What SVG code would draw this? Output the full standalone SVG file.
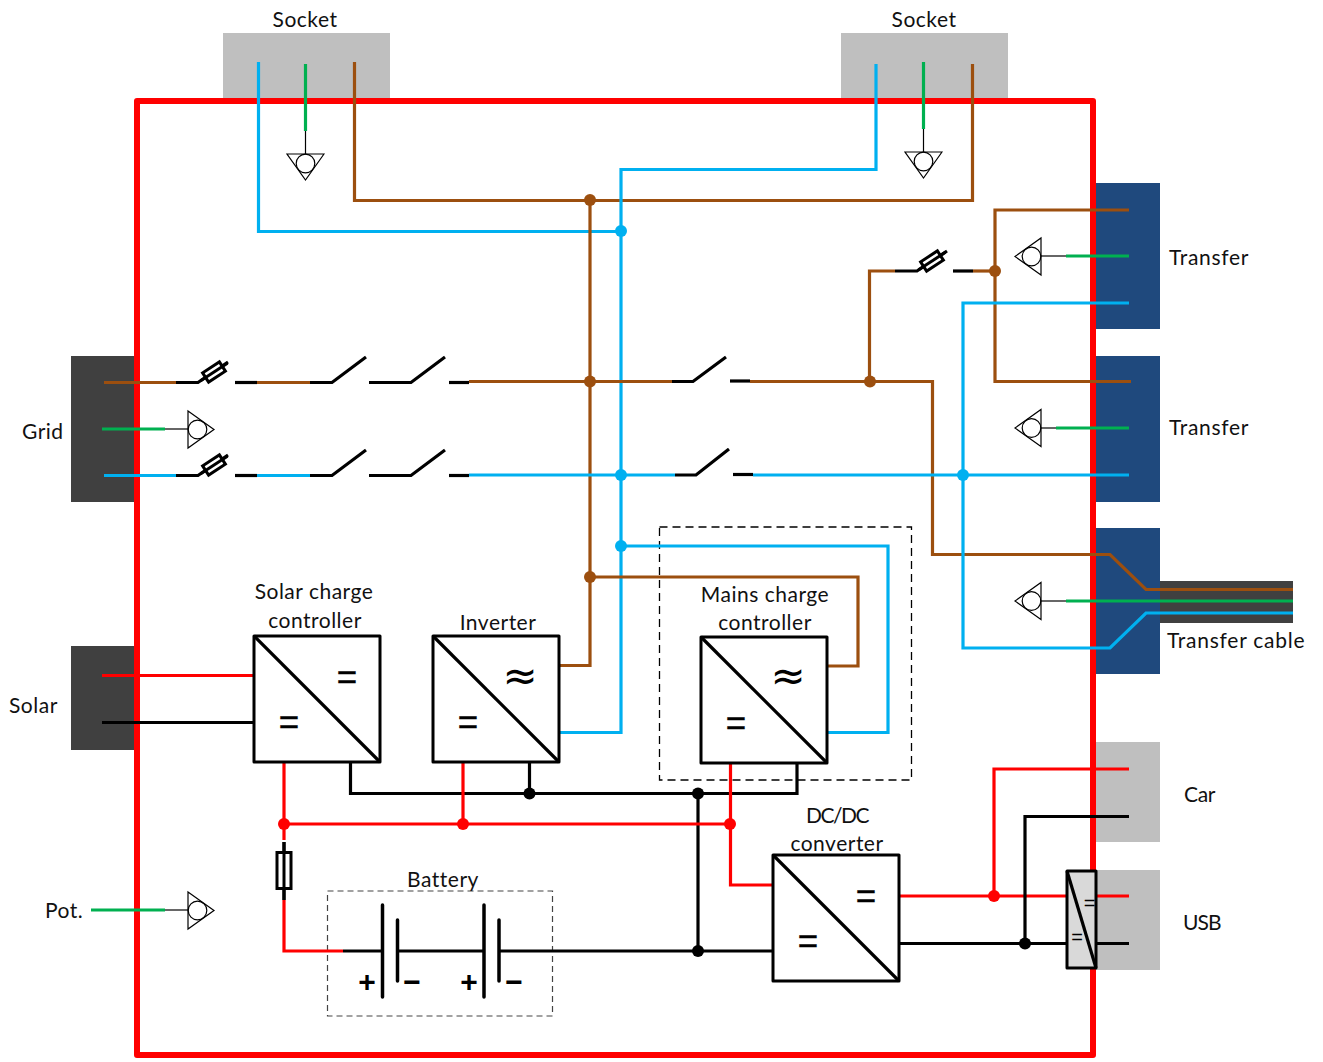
<svg xmlns="http://www.w3.org/2000/svg" xmlns:xlink="http://www.w3.org/1999/xlink" width="1323" height="1062" viewBox="0 0 1323 1062">
<style>
.w{fill:none;stroke-width:3.2;stroke-linejoin:miter}
.br{stroke:#9C4F0F}.bl{stroke:#00B0F0}.gr{stroke:#00B050}.re{stroke:#FF0000}.bk{stroke:#000}
.thin{fill:none;stroke:#000;stroke-width:1.2}
.box{fill:#fff;stroke:#000;stroke-width:3;stroke-linejoin:round}
.t{font-family:Lato,"Noto Sans","Liberation Sans",sans-serif;font-size:21px;fill:#111;letter-spacing:.5px}
.m{text-anchor:middle}
.eq{font-family:"Liberation Sans",sans-serif;font-size:35px;text-anchor:middle;fill:#000;stroke:#000;stroke-width:.4}
.ap{font-family:"DejaVu Sans",sans-serif;font-size:42px;text-anchor:middle;fill:#000}
.pm{font-family:"Liberation Sans",sans-serif;font-size:30px;font-weight:bold;text-anchor:middle;fill:#000}
.dot-br{fill:#9C4F0F}.dot-bl{fill:#00B0F0}.dot-re{fill:#FF0000}.dot-bk{fill:#000}
</style>
<defs>
<g id="fuse"><rect x="-10" y="-5.5" width="20" height="11" fill="#fff" stroke="#000" stroke-width="3"/><path d="M-16 0H16" stroke="#000" stroke-width="3" fill="none"/></g>
<g id="earth"><path d="M0 -18.500L26 0L0 18.500Z" fill="#fff" stroke="#000" stroke-width="1.200"/><circle cx="9.500" cy="0" r="9.300" fill="none" stroke="#000" stroke-width="1.200"/></g>
</defs>

<g id="socket-left"><rect x="223" y="33" width="167" height="66" fill="#BFBFBF"/><text class="t m" x="305" y="27">Socket</text></g>
<g id="socket-right"><rect x="841" y="33" width="167" height="66" fill="#BFBFBF"/><text class="t m" x="924" y="27">Socket</text></g>
<g id="grid"><rect x="71" y="356" width="65" height="146" fill="#404040"/><text class="t" x="22" y="439">Grid</text></g>
<g id="solar"><rect x="71" y="646" width="65" height="104" fill="#404040"/><text class="t" x="9" y="713">Solar</text></g>
<g id="transfer-1"><rect x="1095" y="183" width="65" height="146" fill="#1F497D"/><text class="t" x="1169" y="265" textLength="80">Transfer</text></g>
<g id="transfer-2"><rect x="1095" y="356" width="65" height="146" fill="#1F497D"/><text class="t" x="1169" y="435" textLength="80">Transfer</text></g>
<g id="transfer-3"><rect x="1095" y="528" width="65" height="146" fill="#1F497D"/><rect x="1160" y="581" width="133" height="42" fill="#404040"/><text class="t" x="1167" y="648" textLength="138">Transfer cable</text></g>
<g id="car"><rect x="1095" y="742" width="65" height="100" fill="#BFBFBF"/><text class="t" x="1184" y="802" textLength="32">Car</text></g>
<g id="usb"><rect x="1095" y="870" width="65" height="100" fill="#BFBFBF"/><text class="t" x="1183" y="930" textLength="39">USB</text></g>
<g id="pot"><text class="t" x="45" y="918">Pot.</text></g>

<g id="enclosure"><rect x="137" y="101" width="956" height="954" fill="none" stroke="#FF0000" stroke-width="6" stroke-linejoin="round"/></g>

<g id="mains-frame"><rect x="659.500" y="527" width="252" height="253" fill="none" stroke="#000" stroke-width="1.300" stroke-dasharray="8 5"/></g>
<g id="battery-frame"><rect x="327.500" y="891" width="225" height="125" fill="none" stroke="#444" stroke-width="1.200" stroke-dasharray="6 4"/></g>

<g id="connectors">
<path class="w bl" d="M258.500 62V231.500H621"/>
<path class="w br" d="M354.500 62V200.500H972.500V64"/>
<path class="w bl" d="M876 64V169.500H621V732.500H560"/>
<path class="w br" d="M590 200V665.500H560"/>
<path class="w gr" d="M305.500 64V131"/><path class="thin" d="M305.500 131V155"/>
<path class="w gr" d="M923.500 62V129"/><path class="thin" d="M923.500 129V153"/>

<path class="w br" d="M104 382.500H176"/><path class="w bk" d="M176 382.500H198L228 362"/>
<path class="w bk" d="M235 382.500H257"/><path class="w br" d="M257 382.500H310"/><path class="w bk" d="M310 382.500H332L366 357"/>
<path class="w bk" d="M369 382.500H411L445 357"/>
<path class="w bk" d="M449 382.500H469"/><path class="w br" d="M469 381.500H672"/><path class="w bk" d="M672 381.500H693L726 357"/>
<path class="w bk" d="M730 381H750"/><path class="w br" d="M750 381.500H932.500V554.500H1110L1146 589.500H1293"/>

<path class="w bl" d="M104 475.500H176"/><path class="w bk" d="M176 475.500H198L228 455"/>
<path class="w bk" d="M235 475.500H257"/><path class="w bl" d="M257 475.500H310"/><path class="w bk" d="M310 475.500H332L366 450"/>
<path class="w bk" d="M369 475.500H411L445 450"/>
<path class="w bk" d="M449 475.500H469"/><path class="w bl" d="M469 475H675"/><path class="w bk" d="M675 475H696L729 449"/>
<path class="w bk" d="M733 474.500H753"/><path class="w bl" d="M753 475H1129"/>

<path class="w gr" d="M102 429H165"/><path class="thin" d="M165 429H188"/>
<path class="w gr" d="M91 910H165"/><path class="thin" d="M165 910H188"/>

<path class="w br" d="M1129 210H995V381.500H1131"/>
<path class="w br" d="M995 271H973"/><path class="w bk" d="M973 271H953"/>
<path class="w bk" d="M947 251L917 271H895"/><path class="w br" d="M895 271H869.500V381"/>
<path class="w bl" d="M1129 303H963V648H1110L1146 613H1293"/>
<path class="w gr" d="M1129 256H1066"/><path class="thin" d="M1066 256H1041"/>
<path class="w gr" d="M1129 428H1056"/><path class="thin" d="M1056 428H1041"/>
<path class="w gr" d="M1293 601H1066"/><path class="thin" d="M1066 601H1041"/>

<path class="w bl" d="M621 546H888V732.500H828"/>
<path class="w br" d="M590 577H858V666H828"/>

<path class="w re" d="M102 675.500H254"/><path class="w bk" d="M102 722.500H254"/>
<path class="w bk" d="M350.500 762V793.500H797V763"/><path class="w bk" d="M529.500 762V793"/>
<path class="w bk" d="M698 793V951"/>
<path class="w re" d="M284 762V840"/><path class="w re" d="M284 824H730"/><path class="w re" d="M463 762V824"/>
<path class="w re" d="M730.500 763V885H773"/>
<path class="w bk" d="M284 842V900"/><path class="w re" d="M284 900V951H343"/>
<path class="w bk" d="M343 951H382"/><path class="w bk" d="M397 951H484"/><path class="w bk" d="M499 951H773"/>
<path class="w re" d="M899 896H1067"/><path class="w re" d="M1096 896H1129"/>
<path class="w bk" d="M899 943.500H1067"/><path class="w bk" d="M1096 943.500H1129"/>
<path class="w re" d="M994 896V769H1129"/><path class="w bk" d="M1025 943V816.500H1129"/>

<g class="dot-br"><circle cx="590" cy="200" r="6"/><circle cx="590" cy="381.500" r="6"/><circle cx="590" cy="577" r="6"/><circle cx="870" cy="381.500" r="6"/><circle cx="995" cy="271" r="6"/></g>
<g class="dot-bl"><circle cx="621" cy="231" r="6"/><circle cx="621" cy="475" r="6"/><circle cx="621" cy="546" r="6"/><circle cx="963" cy="475" r="6"/></g>
<g class="dot-re"><circle cx="284" cy="824" r="6"/><circle cx="463" cy="824" r="6"/><circle cx="730" cy="824" r="6"/><circle cx="994" cy="896" r="6"/></g>
<g class="dot-bk"><circle cx="529.500" cy="793.500" r="6"/><circle cx="698" cy="793.500" r="6"/><circle cx="698" cy="951" r="6"/><circle cx="1025" cy="943.500" r="6"/></g>
</g>

<g id="fuse-grid-l"><use xlink:href="#fuse" href="#fuse" transform="translate(214 372) rotate(-33)"/></g>
<g id="fuse-grid-n"><use xlink:href="#fuse" href="#fuse" transform="translate(214 465) rotate(-33)"/></g>
<g id="fuse-transfer"><use xlink:href="#fuse" href="#fuse" transform="translate(932 261) rotate(-33)"/></g>
<g id="fuse-battery"><rect x="277" y="852.500" width="14" height="36" fill="#fff" stroke="#000" stroke-width="3"/><path d="M284 842V900" stroke="#000" stroke-width="3"/></g>

<g id="earth-socket-l"><use xlink:href="#earth" href="#earth" transform="translate(305.500 154) rotate(90)"/></g>
<g id="earth-socket-r"><use xlink:href="#earth" href="#earth" transform="translate(923.500 152) rotate(90)"/></g>
<g id="earth-grid"><use xlink:href="#earth" href="#earth" transform="translate(188 429.500)"/></g>
<g id="earth-pot"><use xlink:href="#earth" href="#earth" transform="translate(188 910.500)"/></g>
<g id="earth-t1"><use xlink:href="#earth" href="#earth" transform="translate(1041 256.500) rotate(180)"/></g>
<g id="earth-t2"><use xlink:href="#earth" href="#earth" transform="translate(1041 428) rotate(180)"/></g>
<g id="earth-t3"><use xlink:href="#earth" href="#earth" transform="translate(1041 601) rotate(180)"/></g>

<g id="solar-charge-controller">
<rect class="box" x="254" y="636" width="126" height="126"/><path class="w bk" d="M254 636L380 762"/>
<text class="eq" x="347" y="689">=</text><text class="eq" x="289" y="734">=</text>
<text class="t m" x="314" y="599">Solar charge</text><text class="t m" x="315" y="628">controller</text>
</g>
<g id="inverter">
<rect class="box" x="433" y="636" width="126" height="126"/><path class="w bk" d="M433 636L559 762"/>
<text class="ap" x="520" y="690">≈</text><text class="eq" x="468" y="734">=</text>
<text class="t m" x="498" y="630">Inverter</text>
</g>
<g id="mains-charge-controller">
<rect class="box" x="701" y="637" width="126" height="126"/><path class="w bk" d="M701 637L827 763"/>
<text class="ap" x="788" y="690">≈</text><text class="eq" x="736" y="735">=</text>
<text class="t m" x="765" y="602">Mains charge</text><text class="t m" x="765" y="630">controller</text>
</g>
<g id="dcdc-converter">
<rect class="box" x="773" y="855" width="126" height="126"/><path class="w bk" d="M773 855L899 981"/>
<text class="eq" x="866" y="908">=</text><text class="eq" x="808" y="953">=</text>
<text class="t m" x="838" y="823" textLength="64">DC/DC</text><text class="t m" x="837" y="851">converter</text>
</g>
<g id="battery">
<path d="M382.500 905V997M484 905V997" stroke="#000" stroke-width="3.500" stroke-linecap="round" fill="none"/>
<path d="M397.500 920V981M499 920V981" stroke="#000" stroke-width="3.500" stroke-linecap="round" fill="none"/>
<text class="pm" x="367" y="992">+</text><text class="pm" x="412" y="992">−</text><text class="pm" x="469" y="992">+</text><text class="pm" x="514" y="992">−</text>
<text class="t m" x="443" y="887">Battery</text>
</g>
<g id="usb-converter">
<rect x="1067" y="871" width="29" height="97" fill="#D9D9D9" stroke="#000" stroke-width="3" stroke-linejoin="round"/><path class="w bk" d="M1067 871L1096 968"/>
<text x="1089.500" y="910" font-family="Liberation Sans,sans-serif" font-size="20" text-anchor="middle">=</text>
<text x="1077" y="944" font-family="Liberation Sans,sans-serif" font-size="20" text-anchor="middle">=</text>
</g>
</svg>
